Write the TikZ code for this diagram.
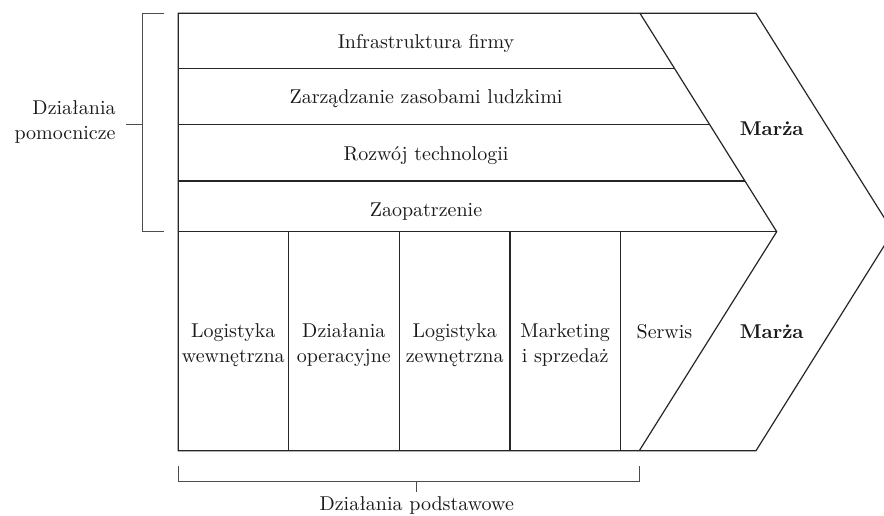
\documentclass[tikz,border=0pt]{standalone}
\usetikzlibrary{calc}
\newcommand{\dwie}[2]{#1\\#2}

\begin{document}
\begin{tikzpicture}[x=0.5pt, y=-0.5pt,
    linia/.style={line width=0.6pt, draw=black!85},
    klamra/.style={line width=0.5pt, draw=black!70},
    etykieta/.style={font=\fontsize{10}{12.5}\selectfont, text=black!90,
                     inner sep=0pt, align=center},
    marza/.style={etykieta, font=\fontsize{10}{12.5}\selectfont\bfseries}]
\clip (0,0) rectangle (884,515);
\coordinate (lg) at (178.3,13.3);
\coordinate (wg) at (640,13.3);
\coordinate (zg) at (756,13.3);
\coordinate (w)  at (776.7,231.7);
\coordinate (z)  at (893,231.7);
\coordinate (wd) at (639.3,450.7);
\coordinate (zd) at (756,450.7);
\coordinate (ld) at (178.3,450.7);

\draw[linia] (lg) -- (zg) -- (z) -- (zd) -- (ld) -- cycle;
\draw[linia] (wg) -- (w) -- (wd);
\draw[linia] (w -| lg) -- (w);
\foreach \t [count=\i] in {0.253, 0.509, 0.768}{
  \coordinate (r\i) at ($(wg)!\t!(w)$);
  \draw[linia] (r\i -| lg) -- (r\i);
}
\foreach \x in {288.3, 399.3, 510, 620.3}
  \draw[linia] (\x,231.7) -- (\x,450.7);

\node[etykieta, anchor=base] (infra) at (426,48.3)  {Infrastruktura firmy};
\node[etykieta, anchor=base] (kadry) at (426,103.5) {Zarządzanie zasobami ludzkimi};
\node[etykieta, anchor=base] (tech)  at (426,160)   {Rozwój technologii};
\node[etykieta, anchor=base] (zaop)  at (426,216.5) {Zaopatrzenie};

\node[etykieta] (logw)  at (233.3,345) {\dwie{Logistyka}{wewnętrzna}};
\node[etykieta] (oper)  at (343.8,345) {\dwie{Działania}{operacyjne}};
\node[etykieta] (logz)  at (454.7,345) {\dwie{Logistyka}{zewnętrzna}};
\node[etykieta] (mark)  at (565.2,345) {\dwie{Marketing}{i sprzedaż}};
\node[etykieta, anchor=base] (serwis) at (664.5,338) {Serwis};

\node[marza, anchor=base] (marzag) at (771.7,135) {Marża};
\node[marza, anchor=base] (marzad) at (771.7,338) {Marża};

% klamry
\draw[klamra] (164.3,13.3) -| (142.3,231.7) -- (164.3,231.7);
\draw[klamra] (142.3,124) -- (126,124);
\node[etykieta, anchor=east, align=right] (pomoc) at (116,122) {\dwie{Działania}{pomocnicze}};

\draw[klamra] (178.3,466) |- (639.3,481) -- (639.3,466);
\draw[klamra] (416,481) -- (416,492);
\node[etykieta, anchor=base] (podst) at (416.7,510) {Działania podstawowe};
\end{tikzpicture}
\end{document}
